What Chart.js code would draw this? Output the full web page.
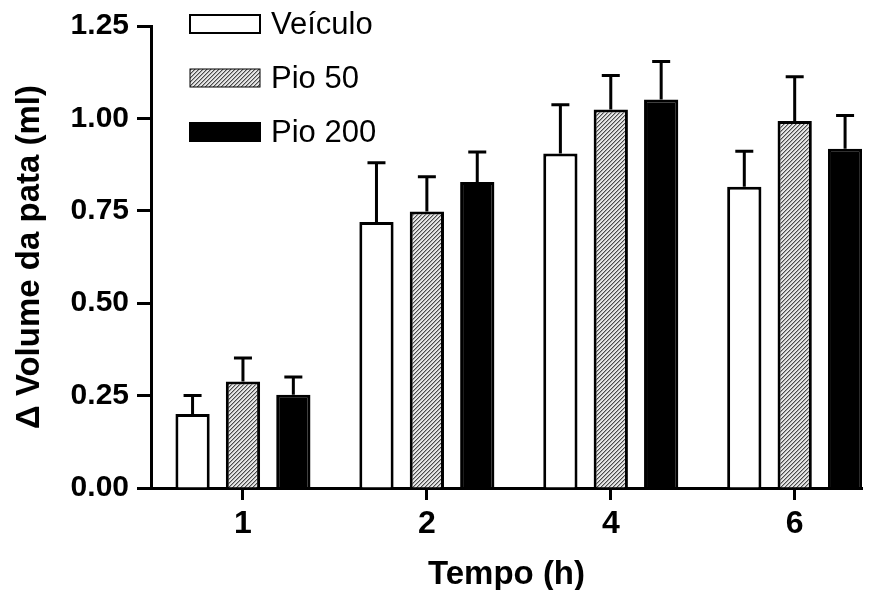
<!DOCTYPE html>
<html lang="pt-br">
<head>
    <meta charset="UTF-8">
    <title>Volume da pata</title>
    <script src="https://cdn.jsdelivr.net/npm/chart.js"></script>
    <style>
        body { margin: 0; background: #fff; }
        .grafico { width: 877px; height: 590px; }
    </style>
</head>
<body>
    <div class="grafico">
        <canvas id="myChart"></canvas>
    </div>

    <script>
        // dados
        const tempos = ['1', '2', '4', '6'];
        const seriesNomes = ['Veículo', 'Pio 50', 'Pio 200'];
        const veiculo = [0.20, 0.72, 0.905, 0.815];
        const veiculoErro = [0.05, 0.16, 0.132, 0.096];
        const pio50 = [0.288, 0.748, 1.024, 0.993];
        const pio50Erro = [0.064, 0.094, 0.092, 0.12];
        const pio200 = [0.252, 0.828, 1.051, 0.918];
        const pio200Erro = [0.048, 0.081, 0.103, 0.09];
        const yTicks = [0, 0.25, 0.5, 0.75, 1.0, 1.25];

        const fonte = 'Liberation Sans, Arial, sans-serif';

        // textura hachurada para Pio 50
        function hachura() {
            const c = document.createElement('canvas');
            c.width = 4; c.height = 4;
            const g = c.getContext('2d');
            g.fillStyle = '#e6e6e6';
            g.fillRect(0, 0, 4, 4);
            for (let i = 0; i < 4; i++) {
                g.fillStyle = '#4a4a4a';
                g.fillRect(i, (3 - i + 4) % 4, 1, 1);
                g.fillStyle = '#a8a8a8';
                g.fillRect(i, (4 - i) % 4, 1, 1);
            }
            return g.createPattern(c, 'repeat');
        }

        function pontos(valores) {
            return valores.map((v, i) => ({ x: i, y: v }));
        }

        const errosPlugin = {
            id: 'erros',
            afterDatasetsDraw(chart) {
                const ctx = chart.ctx;
                const y = chart.scales.y;
                ctx.save();
                ctx.strokeStyle = '#000';
                ctx.lineWidth = 3;
                chart.data.datasets.forEach((ds, d) => {
                    const meta = chart.getDatasetMeta(d);
                    meta.data.forEach((bar, i) => {
                        const topo = y.getPixelForValue(ds.data[i].y + ds.erros[i]);
                        ctx.beginPath();
                        ctx.moveTo(bar.x, bar.y);
                        ctx.lineTo(bar.x, topo);
                        ctx.moveTo(bar.x - 9, topo);
                        ctx.lineTo(bar.x + 9, topo);
                        ctx.stroke();
                    });
                });
                ctx.restore();
            }
        };

        const legendaPlugin = {
            id: 'legenda',
            afterDraw(chart) {
                const ctx = chart.ctx;
                ctx.save();
                ctx.font = '31px ' + fonte;
                ctx.textBaseline = 'middle';
                chart.data.datasets.forEach((ds, d) => {
                    const top = 15 + d * 54;
                    ctx.fillStyle = ds.backgroundColor;
                    ctx.fillRect(190, top, 70, 18);
                    ctx.strokeStyle = '#000';
                    ctx.lineWidth = d == 1 ? 1 : 2;
                    ctx.strokeRect(190, top, 70, 18);
                    ctx.fillStyle = '#000';
                    ctx.fillText(ds.label, 271, top + 10);
                });
                ctx.restore();
            }
        };

        const ctx = document.getElementById('myChart').getContext('2d');
        const myChart = new Chart(ctx, {
            type: 'bar',
            data: {
                datasets: [
                    { label: seriesNomes[0], data: pontos(veiculo), erros: veiculoErro, backgroundColor: '#ffffff' },
                    { label: seriesNomes[1], data: pontos(pio50), erros: pio50Erro, backgroundColor: hachura() },
                    { label: seriesNomes[2], data: pontos(pio200), erros: pio200Erro, backgroundColor: '#000000' }
                ]
            },
            options: {
                responsive: true,
                maintainAspectRatio: false,
                animation: false,
                datasets: {
                    bar: {
                        borderColor: '#000',
                        borderWidth: 3,
                        categoryPercentage: 0.822,
                        barPercentage: 0.68
                    }
                },
                layout: { padding: { top: 24, right: 15 } },
                plugins: {
                    legend: { display: false },
                    tooltip: { enabled: false }
                },
                scales: {
                    x: {
                        type: 'linear',
                        offset: false,
                        min: -0.5,
                        max: 3.366,
                        afterBuildTicks: (s) => { s.ticks = tempos.map((t, i) => ({ value: i })); },
                        afterFit: (s) => { s.height = 102; },
                        border: { color: '#000', width: 3 },
                        grid: { offset: false, drawOnChartArea: false, drawTicks: true, tickLength: 12, tickWidth: 3, color: '#000' },
                        ticks: {
                            color: '#000',
                            padding: 5,
                            font: { family: fonte, size: 32, weight: 'bold' },
                            callback: (v) => tempos[v]
                        },
                        title: {
                            display: true,
                            text: 'Tempo (h)',
                            color: '#000',
                            padding: { top: 0, bottom: -5 },
                            font: { family: fonte, size: 33, weight: 'bold' }
                        }
                    },
                    y: {
                        min: 0,
                        max: 1.25,
                        afterBuildTicks: (s) => { s.ticks = yTicks.map((v) => ({ value: v })); },
                        afterFit: (s) => { s.width = 151; },
                        border: { color: '#000', width: 3 },
                        grid: { drawOnChartArea: false, drawTicks: true, tickLength: 14, tickWidth: 3, color: '#000' },
                        ticks: {
                            color: '#000',
                            padding: 8,
                            font: { family: fonte, size: 30, weight: 'bold' },
                            callback: (v) => v.toFixed(2)
                        },
                        title: {
                            display: true,
                            text: '\u0394 Volume da pata (ml)',
                            color: '#000',
                            padding: { top: 10, bottom: 0 },
                            font: { family: fonte, size: 33, weight: 'bold' }
                        }
                    }
                }
            },
            plugins: [errosPlugin, legendaPlugin]
        });
    </script>
</body>
</html>
